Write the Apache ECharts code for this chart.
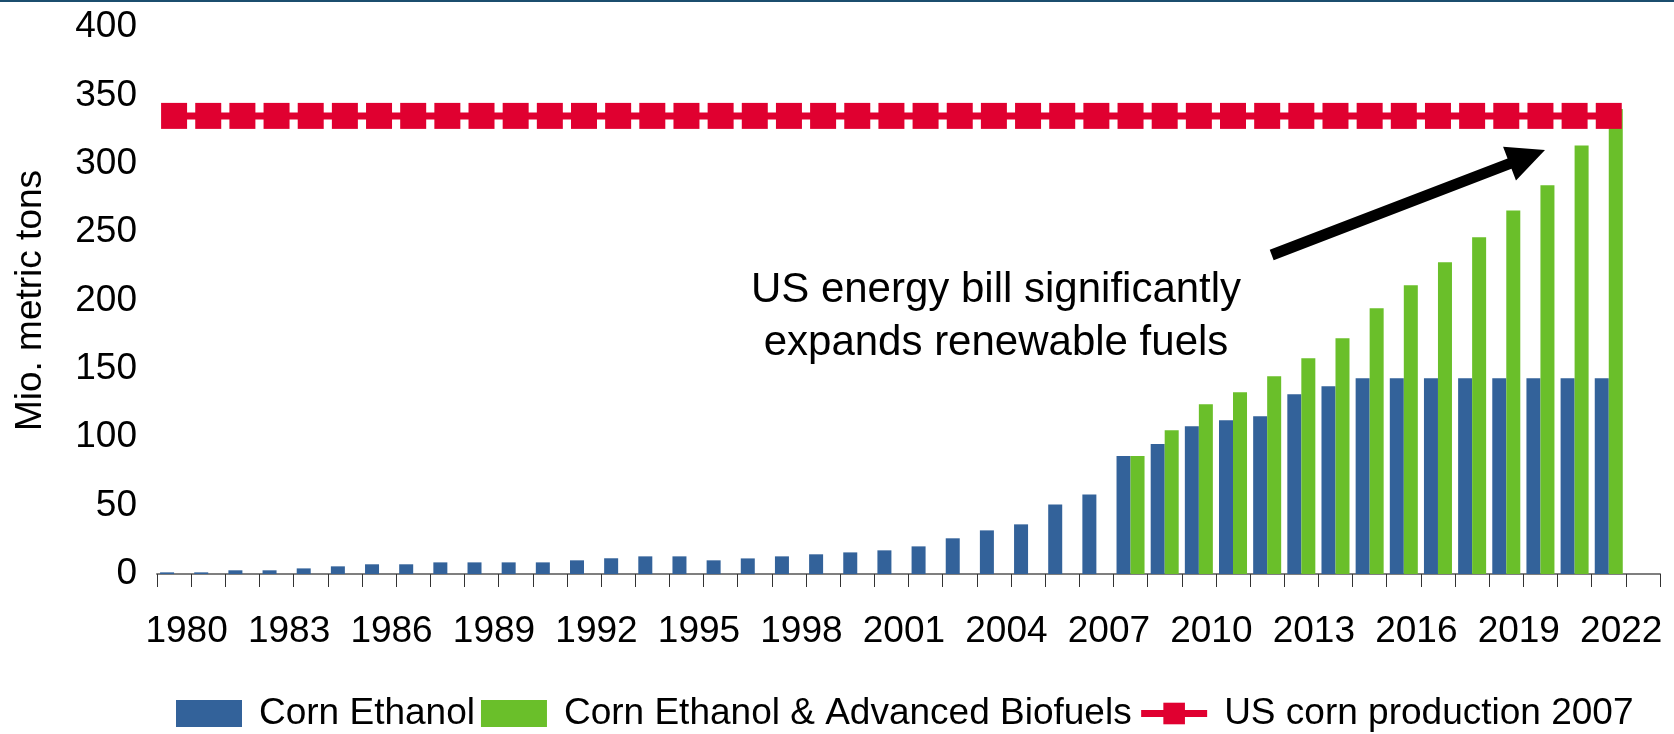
<!DOCTYPE html>
<html>
<head>
<meta charset="utf-8">
<script src="https://cdn.jsdelivr.net/npm/echarts@6/dist/echarts.min.js"></script>
<style>
html,body{margin:0;padding:0;background:#fff;}
#chart{width:1674px;height:734px;}
</style>
</head>
<body>
<div id="chart"></div>
<script>
// Categories (the final empty slot mirrors the reference's trailing category)
const years = ['1980','1981','1982','1983','1984','1985','1986','1987','1988','1989',
  '1990','1991','1992','1993','1994','1995','1996','1997','1998','1999',
  '2000','2001','2002','2003','2004','2005','2006','2007','2008','2009',
  '2010','2011','2012','2013','2014','2015','2016','2017','2018','2019',
  '2020','2021','2022','2023'];

// Mio. metric tons
const cornEthanol = [1.2,1.2,2.7,2.7,4.1,5.6,7.1,7.1,8.5,8.5,
  8.5,8.5,10.0,11.5,12.9,12.9,10.0,11.4,12.9,14.4,
  15.8,17.3,20.2,26.1,31.9,36.3,50.9,58.2,86.2,95.0,
  108.1,112.5,115.4,131.5,137.3,143.2,143.2,143.2,143.2,143.2,
  143.2,143.2,143.2,null];

const advancedBiofuels = [null,null,null,null,null,null,null,null,null,null,
  null,null,null,null,null,null,null,null,null,null,
  null,null,null,null,null,null,null,null,86.2,105.2,
  124.2,132.9,144.6,157.8,172.4,194.3,211.1,227.9,246.2,265.9,
  284.2,313.4,340,null];

const cornProduction2007 = [335,335,335,335,335,335,335,335,335,335,
  335,335,335,335,335,335,335,335,335,335,
  335,335,335,335,335,335,335,335,335,335,
  335,335,335,335,335,335,335,335,335,335,
  335,335,335,null];

const yTicks = {min: 0, max: 400, interval: 50};

const FONT = "'Liberation Sans', Arial, sans-serif";
const BLUE = '#33629A', GREEN = '#6ABF2A', RED = '#E00030';

const chart = echarts.init(document.getElementById('chart'), null, {renderer: 'canvas'});

// arrow geometry (annotation)
const T = [1271.7, 255], P = [1545, 150];
const dx = P[0]-T[0], dy = P[1]-T[1], L = Math.hypot(dx, dy);
const u = [dx/L, dy/L], n = [-u[1], u[0]];
const headLen = 38, headHalf = 18, shaftHalf = 5.5;
const B = [P[0]-headLen*u[0], P[1]-headLen*u[1]];
const pt = (base, k) => [base[0]+k*n[0], base[1]+k*n[1]];
const arrowPts = [pt(T,-shaftHalf), pt(B,-shaftHalf), pt(B,-headHalf), P, pt(B,headHalf), pt(B,shaftHalf), pt(T,shaftHalf)];

chart.setOption({
  animation: false,
  backgroundColor: '#ffffff',
  textStyle: {fontFamily: FONT},
  grid: {left: 157, right: 14, top: 27, bottom: 160, containLabel: false},
  legend: {
    left: 171, top: 690,
    itemWidth: 66, itemHeight: 27, itemGap: 6,
    textStyle: {fontSize: 37, color: '#000', fontFamily: FONT, padding: [0,0,0,12]},
    data: [
      {name: 'Corn Ethanol', icon: 'rect'},
      {name: 'Corn Ethanol & Advanced Biofuels', icon: 'rect'},
      {name: 'US corn production 2007', lineStyle: {width: 7, color: RED}}
    ]
  },
  xAxis: {
    type: 'category',
    data: years,
    boundaryGap: true,
    axisLine: {show: true, lineStyle: {color: '#7f7f7f', width: 2}},
    axisTick: {show: true, interval: 0, length: 13, lineStyle: {color: '#333', width: 1}},
    axisLabel: {interval: 2, fontSize: 37, color: '#000', margin: 39, padding: [0,0,0,25], fontFamily: FONT},
    splitLine: {show: false}
  },
  yAxis: {
    type: 'value',
    min: yTicks.min, max: yTicks.max, interval: yTicks.interval,
    name: 'Mio. metric tons',
    nameLocation: 'middle',
    nameGap: 108,
    nameTextStyle: {fontSize: 37, color: '#000', fontFamily: FONT},
    axisLine: {show: false},
    axisTick: {show: false},
    splitLine: {show: false},
    axisLabel: {fontSize: 37, color: '#000', margin: 20, fontFamily: FONT}
  },
  series: [
    {
      name: 'Corn Ethanol', type: 'bar', data: cornEthanol,
      itemStyle: {color: BLUE}, barGap: '0%', barCategoryGap: '18%', z: 2
    },
    {
      name: 'Corn Ethanol & Advanced Biofuels', type: 'bar', data: advancedBiofuels,
      itemStyle: {color: GREEN}, barGap: '0%', barCategoryGap: '18%', z: 2
    },
    {
      name: 'US corn production 2007', type: 'line', data: cornProduction2007,
      symbol: 'rect', symbolSize: 26, showSymbol: true, showAllSymbol: true,
      lineStyle: {color: RED, width: 7}, itemStyle: {color: RED}, z: 5
    }
  ],
  graphic: [
    {type: 'rect', left: 0, top: 0, z: 100, shape: {width: 1674, height: 2}, style: {fill: '#1B4D6E'}},
    {type: 'polygon', z: 100, shape: {points: arrowPts}, style: {fill: '#000'}},
    {type: 'text', z: 100, x: 996, y: 317,
      style: {text: 'US energy bill significantly\nexpands renewable fuels', font: '42px ' + FONT,
        fill: '#000', align: 'center', verticalAlign: 'middle', lineHeight: 53}}
  ]
});
</script>
</body>
</html>
